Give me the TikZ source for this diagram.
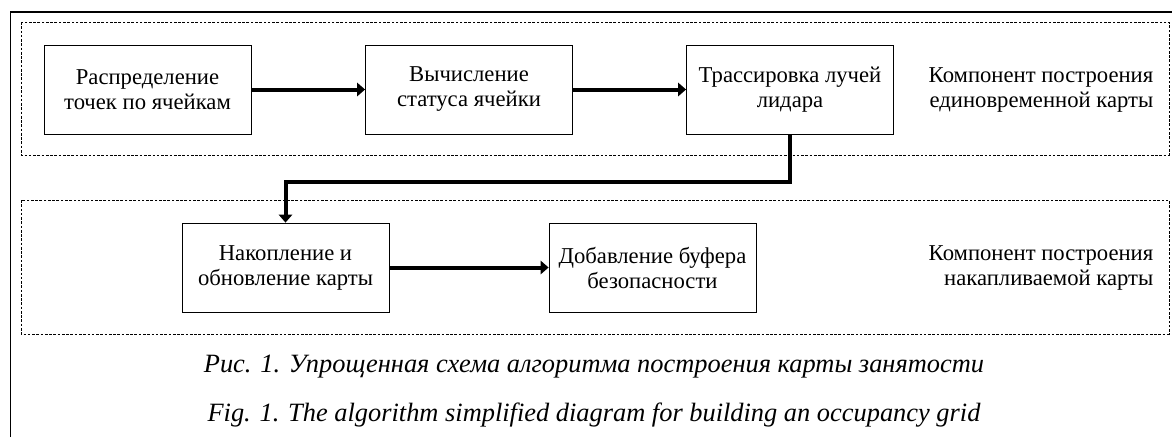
\documentclass[tikz,border=0pt]{standalone}
\usepackage{fontspec}
\setmainfont{Liberation Serif}
\usetikzlibrary{arrows.meta}

\begin{document}
\begin{tikzpicture}[x=0.75pt, y=-0.75pt, font=\fontsize{17}{18.75}\selectfont,
  box/.style={draw, line width=0.6pt, minimum width=155.25pt, minimum height=66.75pt, align=center, inner sep=0pt},
  flow/.style={line width=3pt, -{Triangle[length=6pt,width=10pt]}},
  zone/.style={dash pattern=on 2pt off 1.2pt, line width=0.5pt}]
\useasboundingbox (0,0) rectangle (1172,437);
\draw[line width=0.9pt] (10.5,437) -- (10.5,12) -- (1172,12);
\draw[zone] (21,22) rectangle (1169,155);
\draw[zone] (21,200) rectangle (1169,334);
\node[box] (cells)  at (147.5,89.5) {Распределение\\точек по ячейкам};
\node[box] (status) at (469,89.5)   {Вычисление\\статуса ячейки};
\node[box] (rays)   at (790,89.5)   {Трассировка лучей\\лидара};
\node[box] (accum)  at (285.5,267.5) {Накопление и\\обновление карты};
\node[box] (buffer) at (652.5,267.5) {Добавление буфера\\безопасности};
\node[anchor=east, align=right] (single) at (1158,90) {Компонент построения\\единовременной карты};
\node[anchor=east, align=right] (acc) at (1158,268) {Компонент построения\\накапливаемой карты};
\draw[flow] (cells) -- (status);
\draw[flow] (status) -- (rays);
\draw[flow] (rays.south) -- ++(0,48) -| (accum.north);
\draw[flow] (accum) -- (buffer);
\node[font=\fontsize{19.8}{22}\selectfont\itshape] (capru) at (594,367) {Рис. 1. Упрощенная схема алгоритма построения карты занятости};
\node[font=\fontsize{19.8}{22}\selectfont\itshape] (capen) at (594,415) {Fig. 1. The algorithm simplified diagram for building an occupancy grid};
\end{tikzpicture}
\end{document}
